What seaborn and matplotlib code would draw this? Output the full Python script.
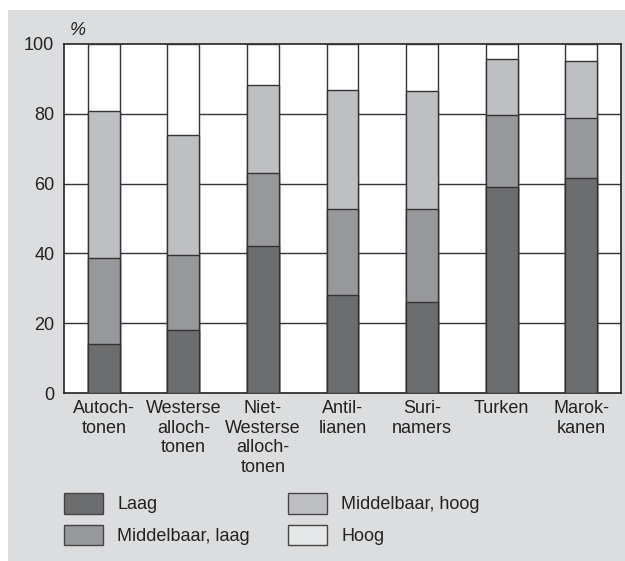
import numpy as np
import pandas as pd
import matplotlib
matplotlib.use("Agg")
import matplotlib.pyplot as plt
from matplotlib.patches import Patch, Rectangle
import seaborn as sns

# Opleidingsniveau naar herkomst (%)
groepen = ["Autoch-\ntonen", "Westerse\nalloch-\ntonen", "Niet-\nWesterse\nalloch-\ntonen",
           "Antil-\nlianen", "Suri-\nnamers", "Turken", "Marok-\nkanen"]
laag = [14.0, 18.0, 42.0, 28.0, 26.0, 59.0, 61.5]
midden_laag = [24.8, 21.4, 20.9, 24.6, 26.6, 20.7, 17.3]
midden_hoog = [42.0, 34.4, 25.3, 34.2, 33.9, 16.1, 16.4]
hoog = [19.2, 26.2, 11.8, 13.2, 13.5, 4.2, 4.8]

niveaus = ["Laag", "Middelbaar, laag", "Middelbaar, hoog", "Hoog"]
kleuren = ["#6c6d6f", "#97989b", "#bebfc2", "#ffffff"]
legend_kleuren = ["#6c6d6f", "#97989b", "#bebfc2", "#e6e7e8"]

sns.set_style("white")
plt.rcParams['font.family'] = ['Liberation Sans', 'DejaVu Sans']
plt.rcParams['font.size'] = 13

df = pd.DataFrame({"groep": groepen, "Laag": laag, "Middelbaar, laag": midden_laag,
                   "Middelbaar, hoog": midden_hoog, "Hoog": hoog})
cum = df[niveaus].cumsum(axis=1)

fig = plt.figure(figsize=(6.25, 5.61), dpi=100)
fig.patch.set_facecolor("white")
fig.patches.append(Rectangle((8 / 625, 0), 1, (561 - 10) / 561, transform=fig.transFigure,
                             facecolor="#dcdddf", edgecolor="none", zorder=-10))
ax = fig.add_axes([64 / 625, 1 - 393 / 561, (621 - 64) / 625, (393 - 44) / 561])
ax.set_facecolor("white")

# gestapeld: bovenste laag eerst tekenen
for niveau, kleur in reversed(list(zip(niveaus, kleuren))):
    sns.barplot(x=df["groep"], y=cum[niveau], color=kleur, width=0.4,
                edgecolor="#333333", linewidth=1, ax=ax, zorder=3, saturation=1)

for y in [20, 40, 60, 80]:
    ax.axhline(y, color="#333333", lw=1, zorder=1)

ax.set_ylim(0, 100)
ax.set_xlim(-0.5, len(groepen) - 0.5)
ax.set_yticks([0, 20, 40, 60, 80, 100])
ax.set_xlabel("")
ax.set_ylabel("")
ax.tick_params(axis="y", length=0, pad=7, labelsize=13, colors="#222222")
ax.tick_params(axis="x", length=0, pad=5, labelsize=13, colors="#222222")
for lbl in ax.get_xticklabels():
    lbl.set_linespacing(1.2)
for s in ax.spines.values():
    s.set_visible(True)
    s.set_color("#222222")
    s.set_linewidth(1.2)
ax.text(0.01, 1.015, "%", transform=ax.transAxes, fontsize=13, style="italic",
        ha="left", va="bottom", color="#222222")

handles = [Patch(facecolor=c, edgecolor="#444444", linewidth=1) for c in legend_kleuren]
fig.legend(handles, niveaus, ncol=2, loc="upper left", bbox_to_anchor=(64 / 625, 1 - 493 / 561),
           frameon=False, borderpad=0, borderaxespad=0, handlelength=2.17, handleheight=1.38,
           handletextpad=0.78, columnspacing=2.1, labelspacing=0.62, fontsize=13)
for t in fig.legends[0].get_texts():
    t.set_color("#222222")

fig.savefig("out.png", dpi=100)
